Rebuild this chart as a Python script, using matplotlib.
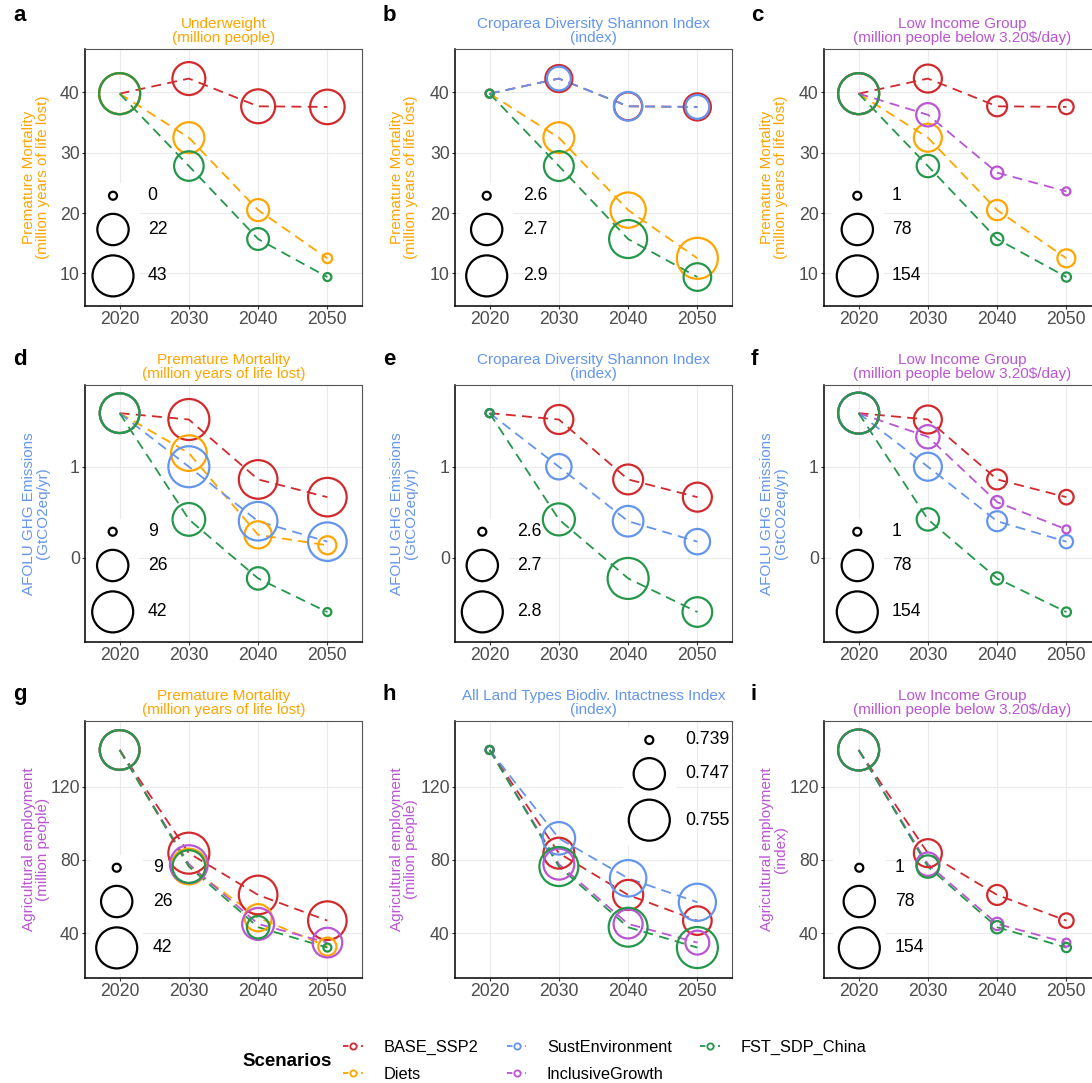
import numpy as np
import matplotlib
matplotlib.use("Agg")
import matplotlib.pyplot as plt
from matplotlib.lines import Line2D
from matplotlib.patches import Rectangle

plt.rcParams["font.family"] = ["Liberation Sans", "DejaVu Sans"]

W, H = 1092, 1083
DPI = 100
PX = 72.0 / DPI          # points per pixel
AX_W, AX_H = 277, 257    # panel size in pixels
D_MIN, D_MAX = 8, 41     # circle diameters in pixels
STROKE = 1.6

years = [2020, 2030, 2040, 2050]
scenarios = ["BASE_SSP2", "Diets", "SustEnvironment", "InclusiveGrowth", "FST_SDP_China"]
scenario_colors = ["#D2292D", "#FFA500", "#6495ED", "#BA55D3", "#24974B"]

ORANGE, BLUE, PURPLE = "#FFA500", "#6495ED", "#BA55D3"

# y variables
mortality = {
    "BASE_SSP2": [39.8, 42.3, 37.7, 37.6],
    "Diets": [39.8, 32.5, 20.5, 12.5],
    "SustEnvironment": [39.8, 42.3, 37.7, 37.6],
    "InclusiveGrowth": [39.8, 36.3, 26.7, 23.6],
    "FST_SDP_China": [39.8, 27.8, 15.7, 9.4],
}
afolu = {
    "BASE_SSP2": [1.59, 1.52, 0.86, 0.665],
    "Diets": [1.59, 1.15, 0.25, 0.135],
    "SustEnvironment": [1.59, 1.00, 0.40, 0.175],
    "InclusiveGrowth": [1.59, 1.33, 0.61, 0.31],
    "FST_SDP_China": [1.59, 0.42, -0.23, -0.60],
}
ag_employment = {
    "BASE_SSP2": [140, 83.7, 60.9, 46.9],
    "Diets": [140, 76.4, 48.5, 32.7],
    "SustEnvironment": [140, 91.8, 70.0, 56.9],
    "InclusiveGrowth": [140, 77.7, 45.1, 34.9],
    "FST_SDP_China": [140, 76.4, 43.3, 32.2],
}

# size variables
underweight = {
    "BASE_SSP2": [43.2, 24.7, 26.7, 28.0],
    "Diets": [43.2, 21.0, 8.0, 0.3],
    "FST_SDP_China": [43.2, 18.5, 7.7, 0.2],
}
croparea = {
    "BASE_SSP2": [2.62, 2.700, 2.707, 2.700],
    "Diets": [2.62, 2.735, 2.784, 2.86],
    "SustEnvironment": [2.62, 2.675, 2.713, 2.675],
    "FST_SDP_China": [2.62, 2.725, 2.818, 2.705],
}
bii = {
    "BASE_SSP2": [0.739, 0.7467, 0.7462, 0.7452],
    "SustEnvironment": [0.739, 0.7478, 0.7509, 0.7515],
    "InclusiveGrowth": [0.739, 0.7467, 0.7455, 0.7427],
    "FST_SDP_China": [0.739, 0.7531, 0.7530, 0.755],
}
low_income = {
    "BASE_SSP2": [154, 57, 21, 7],
    "Diets": [154, 57, 22, 15],
    "SustEnvironment": [154, 57, 21, 5],
    "InclusiveGrowth": [154, 34, 3.6, 1.0],
    "FST_SDP_China": [154, 30, 3.6, 1.2],
}

PM_TEXT = "Premature Mortality\n(million years of life lost)"
UW_TEXT = "Underweight\n(million people)"
CROP_TEXT = "Croparea Diversity Shannon Index\n(index)"
LI_TEXT = "Low Income Group\n(million people below 3.20\\$/day)"
BII_TEXT = "All Land Types Biodiv. Intactness Index\n(index)"
GHG_TEXT = "AFOLU GHG Emissions\n(GtCO2eq/yr)"

BASE, DIETS, SUST, INCL, FST = scenarios

rows = [
    dict(y=mortality, ylim=(4.6, 47.2), yticks=[10, 20, 30, 40], top=49),
    dict(y=afolu, ylim=(-0.93, 1.90), yticks=[0, 1], top=385),
    dict(y=ag_employment, ylim=(15.6, 155.8), yticks=[40, 80, 120], top=721),
]
col_left = [85, 455, 824]
ylabel_x = [-0.126, -0.1325, -0.129]
letter_x = [13, 383, 751]
letter_base = [20.7, 365.3, 700]

panels = [
    dict(letter="a", row=0, col=0, size=underweight, show=[BASE, DIETS, FST],
         title=UW_TEXT, tcolor=ORANGE, ylabel=PM_TEXT, ycolor=ORANGE, fmt="{:.0f}", key=(28, 62.7)),
    dict(letter="b", row=0, col=1, size=croparea, show=[BASE, DIETS, SUST, FST],
         title=CROP_TEXT, tcolor=BLUE, ylabel=PM_TEXT, ycolor=ORANGE, fmt="{:.1f}", key=(31.7, 67.7)),
    dict(letter="c", row=0, col=2, size=low_income, show=[BASE, DIETS, INCL, FST],
         title=LI_TEXT, tcolor=PURPLE, ylabel=PM_TEXT, ycolor=ORANGE, fmt="{:.0f}", key=(33.3, 67.7)),
    dict(letter="d", row=1, col=0, size=mortality, show=[BASE, DIETS, SUST, FST],
         title=PM_TEXT, tcolor=ORANGE, ylabel=GHG_TEXT, ycolor=BLUE, fmt="{:.0f}", key=(27.7, 62.7)),
    dict(letter="e", row=1, col=1, size=croparea, show=[BASE, SUST, FST],
         title=CROP_TEXT, tcolor=BLUE, ylabel=GHG_TEXT, ycolor=BLUE, fmt="{:.1f}", key=(27.3, 62.3)),
    dict(letter="f", row=1, col=2, size=low_income, show=[BASE, SUST, INCL, FST],
         title=LI_TEXT, tcolor=PURPLE, ylabel=GHG_TEXT, ycolor=BLUE, fmt="{:.0f}", key=(33.3, 67.7)),
    dict(letter="g", row=2, col=0, size=mortality, show=[BASE, DIETS, INCL, FST],
         title=PM_TEXT, tcolor=ORANGE, ylabel="Agricultural employment\n(million people)",
         ycolor=PURPLE, fmt="{:.0f}", key=(31.7, 67.7)),
    dict(letter="h", row=2, col=1, size=bii, show=[BASE, SUST, INCL, FST],
         title=BII_TEXT, tcolor=BLUE, ylabel="Agricultural employment\n(milion people)",
         ycolor=PURPLE, fmt="{:.3f}", key=None),
    dict(letter="i", row=2, col=2, size=low_income, show=[BASE, INCL, FST],
         title=LI_TEXT, tcolor=PURPLE, ylabel="Agricultural employment\n(index)",
         ycolor=PURPLE, fmt="{:.0f}", key=(35.3, 71)),
]


def circle_diameter(v, vmin, vmax):
    """diameter in pixels, area-like scale as in ggplot scale_size"""
    frac = (np.asarray(v, dtype=float) - vmin) / (vmax - vmin)
    return D_MIN + (D_MAX - D_MIN) * np.sqrt(np.clip(frac, 0, 1))


def draw_size_legend(ax, vmin, vmax, fmt, key):
    """
    Draws the size legend inside the panel, ggplot style (white key boxes)

    :param key: (circle x, label x) in pixels from the left, or None for top right
    """
    vals = [vmin, (vmin + vmax) / 2, vmax]
    diam = circle_diameter(vals, vmin, vmax)
    key_h = [max(d + STROKE / PX, 18) + 8 for d in diam]
    if key is None:
        cx, lx = AX_W - 82.7, AX_W - 47
        y = AX_H - 6
        centers = []
        for h in key_h:
            centers.append(y - h / 2)
            y -= h
    else:
        cx, lx = key
        y = 4.5
        centers = [0, 0, 0]
        for i in [2, 1, 0]:
            centers[i] = y + key_h[i] / 2
            y += key_h[i]
    for v, d, h, cy in zip(vals, diam, key_h, centers):
        ax.add_patch(Rectangle(((cx - 26.5) / AX_W, (cy - h / 2) / AX_H), 53 / AX_W, h / AX_H,
                               transform=ax.transAxes, facecolor="white", edgecolor="none",
                               zorder=4))
        ax.scatter([cx / AX_W], [cy / AX_H], s=(d * PX) ** 2, transform=ax.transAxes,
                   facecolors="none", edgecolors="black", linewidths=STROKE, zorder=5,
                   clip_on=False)
        ax.text(lx / AX_W, cy / AX_H, fmt.format(v), transform=ax.transAxes, ha="left",
                va="center", fontsize=12.7, color="black", zorder=6, clip_on=False)


def draw_panel(fig, p):
    row = rows[p["row"]]
    left = col_left[p["col"]]
    top = row["top"]
    ax = fig.add_axes([left / W, 1 - (top + AX_H) / H, AX_W / W, AX_H / H])

    size_vals = np.concatenate([p["size"][s] for s in p["show"]])
    vmin, vmax = size_vals.min(), size_vals.max()

    for name, color in zip(scenarios, scenario_colors):
        if name not in p["show"]:
            continue
        yv = row["y"][name]
        ax.plot(years, yv, color=color, lw=1.3, linestyle=(0, (5.5, 3.5)), zorder=2)
        d = circle_diameter(p["size"][name], vmin, vmax)
        ax.scatter(years, yv, s=(d * PX) ** 2, facecolors="none", edgecolors=color,
                   linewidths=STROKE, zorder=3)

    ax.set_xlim(2015, 2055)
    ax.set_ylim(*row["ylim"])
    ax.set_xticks(years)
    ax.set_yticks(row["yticks"])
    ax.grid(True, color="#EBEBEB", lw=0.8)
    ax.set_axisbelow(True)
    ax.tick_params(axis="both", labelsize=12.7, labelcolor="#4D4D4D", color="#333333",
                   length=2.2, width=0.8, pad=1.5)
    for side in ["left", "bottom"]:
        ax.spines[side].set_color("black")
        ax.spines[side].set_linewidth(1.1)
    for side in ["top", "right"]:
        ax.spines[side].set_color("#555555")
        ax.spines[side].set_linewidth(0.8)

    ax.set_title(p["title"], color=p["tcolor"], fontsize=11, pad=5, linespacing=1.05)
    ax.set_ylabel(p["ylabel"], color=p["ycolor"], fontsize=11, linespacing=1.05)
    ax.yaxis.set_label_coords(ylabel_x[p["col"]], 0.5)

    draw_size_legend(ax, vmin, vmax, p["fmt"], p["key"])

    fig.text(letter_x[p["col"]] / W, 1 - letter_base[p["row"]] / H, p["letter"],
             fontsize=16, fontweight="bold", ha="left", va="baseline")


if __name__ == "__main__":
    fig = plt.figure(figsize=(W / DPI, H / DPI), dpi=DPI)
    for p in panels:
        draw_panel(fig, p)

    handles = [Line2D([], [], color=c, lw=1.3, linestyle=(0, (3, 2)), marker="o",
                      markersize=4.5, markerfacecolor="white", markeredgewidth=1.3)
               for c in scenario_colors]
    fig.legend(handles, scenarios, loc="center left", bbox_to_anchor=(343 / W, 1 - 1061 / H),
               ncol=3, frameon=False, fontsize=11.8, handlelength=1.2, handletextpad=1.25,
               columnspacing=1.75, labelspacing=0.7, borderpad=0, borderaxespad=0)
    fig.text(242 / W, 1 - 1061 / H, "Scenarios", fontsize=13.5, fontweight="bold",
             ha="left", va="center")

    fig.savefig("out.png", dpi=DPI)
